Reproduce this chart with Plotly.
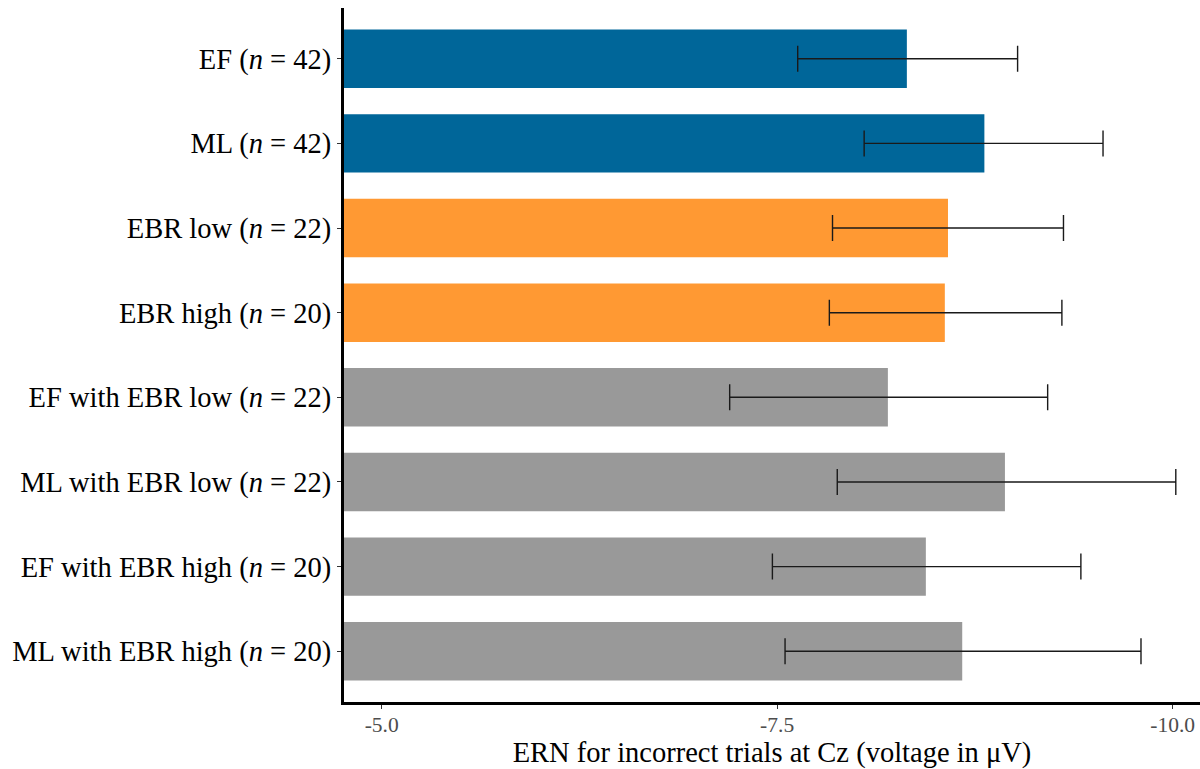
import plotly.graph_objects as go

categories = [
    "EF (<i>n</i> = 42)",
    "ML (<i>n</i> = 42)",
    "EBR low (<i>n</i> = 22)",
    "EBR high (<i>n</i> = 20)",
    "EF with EBR low (<i>n</i> = 22)",
    "ML with EBR low (<i>n</i> = 22)",
    "EF with EBR high (<i>n</i> = 20)",
    "ML with EBR high (<i>n</i> = 20)",
]
means = [-8.32, -8.81, -8.58, -8.56, -8.20, -8.94, -8.44, -8.67]
ci_upper = [-7.63, -8.05, -7.85, -7.83, -7.20, -7.88, -7.47, -7.55]
ci_lower = [-9.02, -9.56, -9.31, -9.30, -9.21, -10.02, -9.42, -9.80]
groups = ["main", "main", "ebr", "ebr", "combo", "combo", "combo", "combo"]
group_colors = {"main": "#006699", "ebr": "#FF9933", "combo": "#999999"}
x_ticks = [-5.0, -7.5, -10.0]
x_tick_labels = ["-5.0", "-7.5", "-10.0"]

bar_colors = [group_colors[g] for g in groups]
err_plus = [u - m for u, m in zip(ci_upper, means)]
err_minus = [m - l for m, l in zip(means, ci_lower)]

fig = go.Figure(
    go.Bar(
        x=means,
        y=categories,
        orientation="h",
        marker=dict(color=bar_colors, line=dict(width=0)),
        width=0.69,
        error_x=dict(
            type="data",
            symmetric=False,
            array=err_plus,
            arrayminus=err_minus,
            color="#1a1a1a",
            thickness=1.4,
            width=13,
        ),
        hoverinfo="x+y",
    )
)

fig.update_layout(
    width=1200,
    height=769,
    margin=dict(l=344, r=0, t=8, b=67, autoexpand=False),
    plot_bgcolor="white",
    paper_bgcolor="white",
    showlegend=False,
    font=dict(family="Liberation Serif", color="black"),
)

fig.update_xaxes(
    range=[-4.762, -10.173],
    tickvals=x_ticks,
    ticktext=x_tick_labels,
    tickfont=dict(size=21.5, color="#4d4d4d", family="Liberation Serif"),
    ticks="outside",
    ticklen=4,
    tickwidth=1.2,
    tickcolor="#333333",
    ticklabelstandoff=-3,
    showgrid=False,
    zeroline=False,
    showline=True,
    linecolor="black",
    linewidth=2.5,
    title=dict(
        text="ERN for incorrect trials at Cz (voltage in μV)",
        font=dict(size=28.5, color="black", family="Liberation Serif"),
        standoff=8,
    ),
)

fig.update_yaxes(
    type="category",
    categoryorder="array",
    categoryarray=categories,
    range=[7.6, -0.6],
    tickfont=dict(size=28.5, color="black", family="Liberation Serif"),
    ticks="outside",
    ticklen=4,
    tickwidth=1.2,
    tickcolor="#333333",
    showgrid=False,
    zeroline=False,
    showline=True,
    linecolor="black",
    linewidth=3,
)

fig.write_html(
    "out.html",
    config={"displayModeBar": False},
    post_script="document.body.style.margin='0';document.body.style.overflow='hidden';",
)
